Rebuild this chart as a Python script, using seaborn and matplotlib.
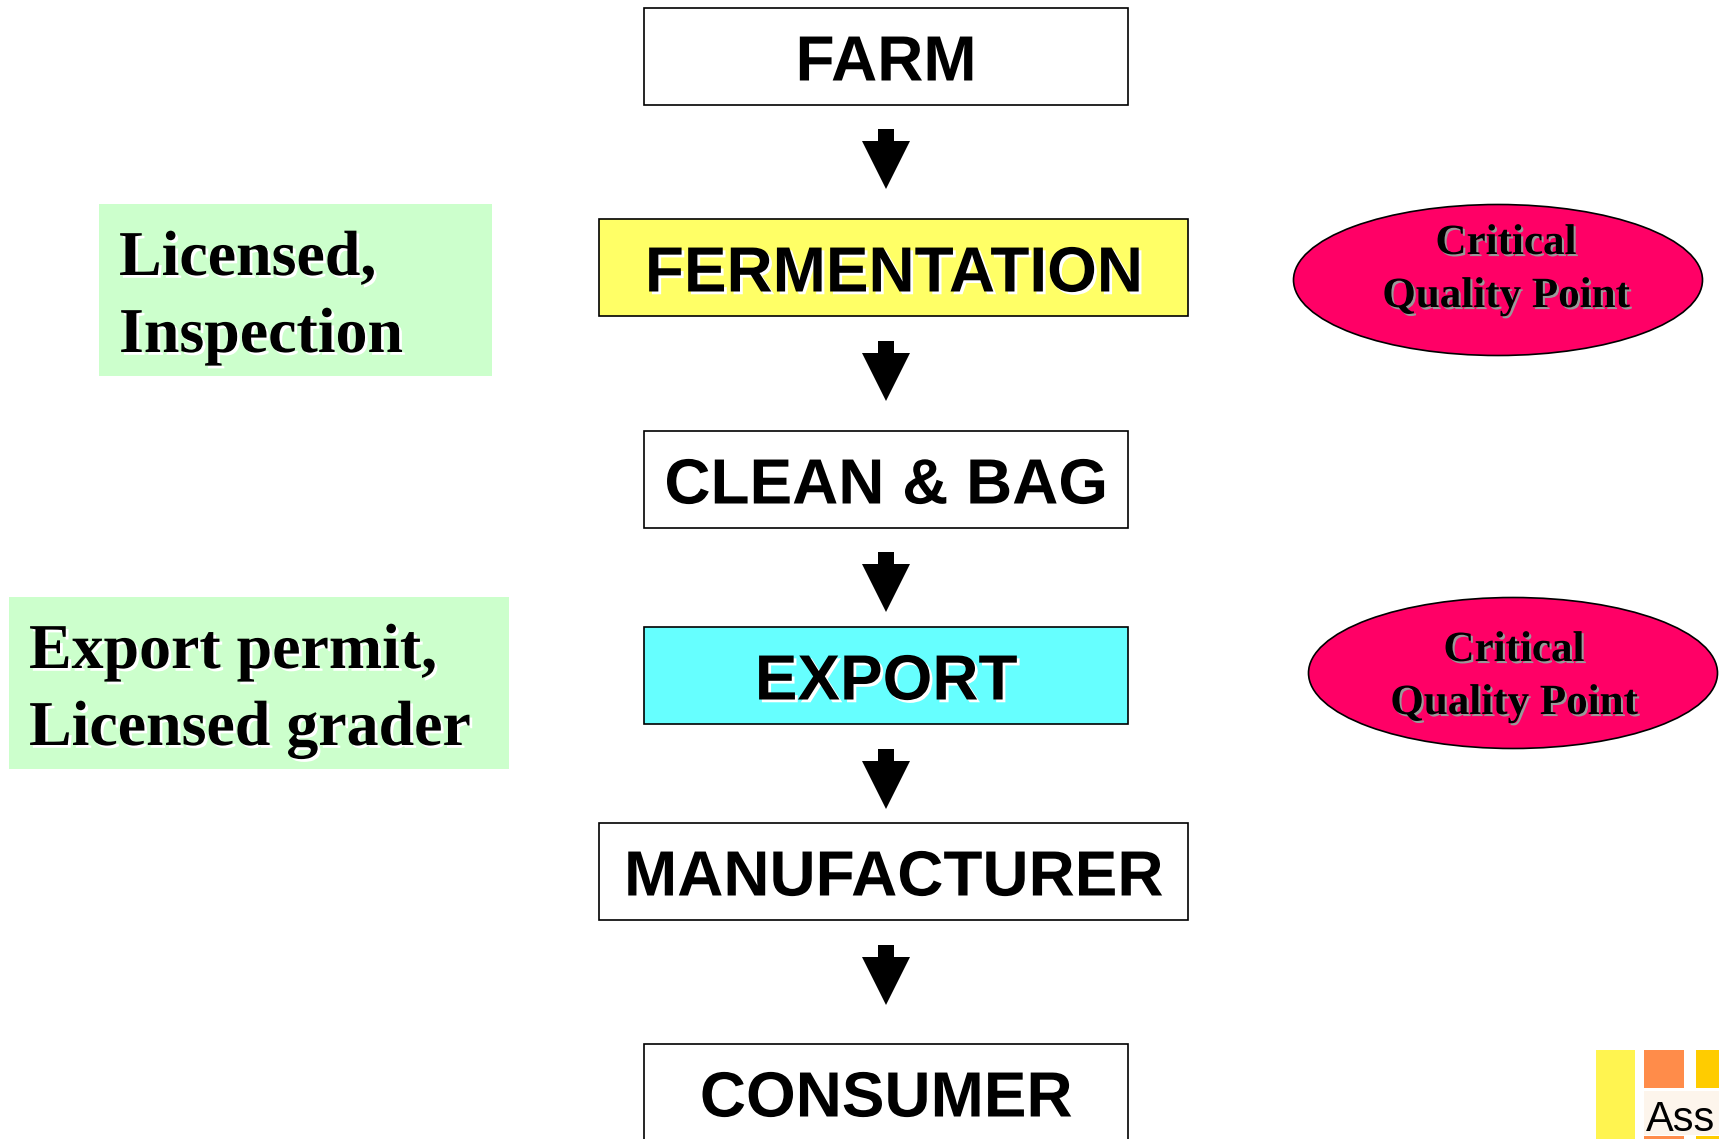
import matplotlib
matplotlib.use("Agg")
import matplotlib.pyplot as plt
import matplotlib.patheffects as pe
from matplotlib.patches import Rectangle, Ellipse, Polygon
import seaborn as sns

# CHAIN STEPS (top to bottom)
steps = ["FARM", "FERMENTATION", "CLEAN & BAG", "EXPORT", "MANUFACTURER", "CONSUMER"]
step_colors = ["white", "#FFFF66", "white", "#66FFFF", "white", "white"]
step_wide = [False, True, False, False, True, False]

# side notes (green boxes) and critical points (red ovals), keyed by step
note_steps = ["FERMENTATION", "EXPORT"]
note_lines = [["Licensed,", "Inspection"], ["Export permit,", "Licensed grader"]]
critical_steps = ["FERMENTATION", "EXPORT"]
critical_lines = ["Critical", "Quality Point"]

# LAYOUT (pixels, figure is 1719 x 1139)
W, H = 1719, 1139
box_tops = [8, 219, 431, 627, 823, 1044]
box_h = 97
cx = 886
arrow_tops = [129, 341, 552, 749, 945]
note_boxes = [(99, 204, 393, 172), (9, 597, 500, 172)]
oval_centers = [(1498, 280), (1513, 673)]
oval_text_pos = [(1506, 244), (1514, 651)]

sns.set_theme(style="white")
plt.rcParams["font.family"] = ["Liberation Sans", "DejaVu Sans"]

fig = plt.figure(figsize=(W / 100, H / 100), dpi=100)
ax = fig.add_axes([0, 0, 1, 1])
ax.set_xlim(0, W)
ax.set_ylim(H, 0)
ax.axis("off")

white_shadow = [pe.withSimplePatchShadow(offset=(2, -2), shadow_rgbFace="white", alpha=1.0)]
gray_shadow = [pe.withSimplePatchShadow(offset=(1.5, -1.5), shadow_rgbFace="#999999", alpha=1.0)]

# main chain boxes
for i, (label, col, wide) in enumerate(zip(steps, step_colors, step_wide)):
    if wide:
        x0, x1 = 599, 1188
    else:
        x0, x1 = 644, 1128
    top = box_tops[i]
    ax.add_patch(Rectangle((x0, top), x1 - x0, box_h, facecolor=col,
                           edgecolor="black", linewidth=1.2, zorder=2))
    ax.text((x0 + x1) / 2, top + box_h / 2 + 7, label, ha="center", va="center",
            fontsize=46, fontweight="bold", color="black",
            path_effects=white_shadow, zorder=3)

# arrows between steps
for t in arrow_tops:
    stem = Rectangle((cx - 8, t), 16, 13, facecolor="black", edgecolor="none", zorder=2)
    head = Polygon([(cx - 24, t + 12), (cx + 24, t + 12), (cx, t + 60)],
                   closed=True, facecolor="black", edgecolor="none", zorder=2)
    ax.add_patch(stem)
    ax.add_patch(head)

# green note boxes
for (x, y, w, h), lines in zip(note_boxes, note_lines):
    ax.add_patch(Rectangle((x, y), w, h, facecolor="#CCFFCC", edgecolor="none", zorder=1))
    for k, line in enumerate(lines):
        ax.text(x + 20, y + 56 + k * 77, line, ha="left", va="center",
                fontsize=46, fontweight="bold", family=["Liberation Serif", "DejaVu Serif"],
                color="black", path_effects=white_shadow, zorder=3)

# critical quality point ovals
for (ex, ey), (tx, ty) in zip(oval_centers, oval_text_pos):
    ax.add_patch(Ellipse((ex, ey), 409, 151, facecolor="#FF0066",
                         edgecolor="black", linewidth=1.2, zorder=2))
    for k, line in enumerate(critical_lines):
        ax.text(tx, ty + k * 53, line, ha="center", va="center",
                fontsize=31, fontweight="bold", family=["Liberation Serif", "DejaVu Serif"],
                color="black", path_effects=gray_shadow, zorder=3)

# logo fragment, bottom right corner
ax.add_patch(Rectangle((1596, 1050), 39, 89, facecolor="#FFF450", edgecolor="none"))
ax.add_patch(Rectangle((1644, 1050), 40, 38, facecolor="#FF8C4A", edgecolor="none"))
ax.add_patch(Rectangle((1696, 1050), 23, 38, facecolor="#FFCC00", edgecolor="none"))
ax.add_patch(Rectangle((1644, 1091), 75, 44, facecolor="#FDF5EC", edgecolor="none"))
ax.add_patch(Rectangle((1644, 1136), 40, 3, facecolor="#FF8C4A", edgecolor="none"))
ax.add_patch(Rectangle((1696, 1136), 23, 3, facecolor="#FFCC00", edgecolor="none"))
ax.text(1646, 1131, "Ass", ha="left", va="baseline", fontsize=30, color="black")

fig.savefig("out.png", dpi=100)
plt.close(fig)
